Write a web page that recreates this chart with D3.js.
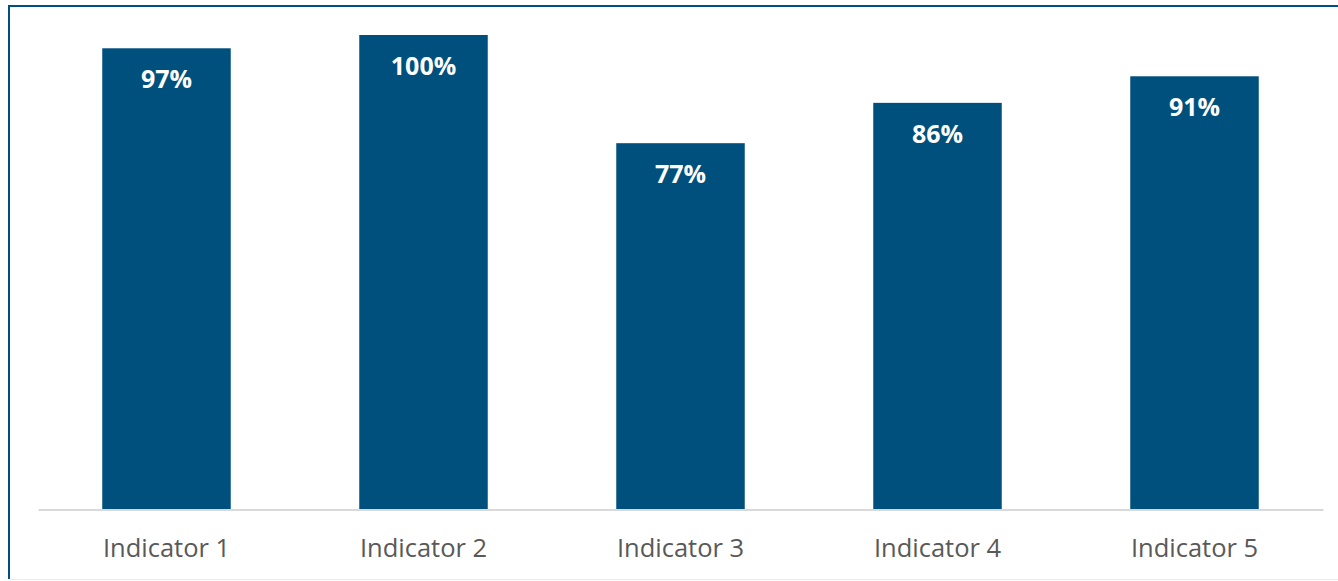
<!DOCTYPE html>
<html>
<head>
<meta charset="utf-8">
<script src="https://cdn.jsdelivr.net/npm/d3@7"></script>
<style>
  html, body { margin: 0; padding: 0; background: #ffffff; }
  svg { display: block; }
</style>
</head>
<body>
<svg id="chart" width="1338" height="581"></svg>
<script>
const categories = ["Indicator 1", "Indicator 2", "Indicator 3", "Indicator 4", "Indicator 5"];
const values = [0.972, 1.00, 0.772, 0.857, 0.913];
const valueLabels = ["97%", "100%", "77%", "86%", "91%"];

const W = 1338, H = 581;
const svg = d3.select("#chart");
const barColor = "#00507D";

// frame
svg.append("line").attr("x1", 9).attr("x2", W).attr("y1", 6).attr("y2", 6)
  .attr("stroke", barColor).attr("stroke-width", 2);
svg.append("line").attr("x1", 9).attr("x2", 9).attr("y1", 5).attr("y2", 579)
  .attr("stroke", barColor).attr("stroke-width", 2);
svg.append("line").attr("x1", 10).attr("x2", W).attr("y1", 579.5).attr("y2", 579.5)
  .attr("stroke", "#e3ecf1").attr("stroke-width", 1);

const x = d3.scaleBand().domain(categories).range([38, 1323]).paddingInner(0.5).paddingOuter(0.25);
const y = d3.scaleLinear().domain([0, 1]).range([509.5, 35]);

svg.append("g").selectAll("rect").data(categories).join("rect")
  .attr("x", d => x(d))
  .attr("width", x.bandwidth())
  .attr("y", (d, i) => y(values[i]))
  .attr("height", (d, i) => y(0) - y(values[i]))
  .attr("fill", barColor);

// axis
const axis = svg.append("g").attr("transform", `translate(0,${y(0)})`)
  .call(d3.axisBottom(x).tickSize(0).tickPadding(0));
axis.select(".domain").attr("stroke", "#d9d9d9").attr("stroke-width", 2);
axis.selectAll("text")
  .attr("y", 47.5).attr("dy", 0)
  .attr("font-family", "'Open Sans', sans-serif")
  .attr("font-size", 25.5)
  .attr("fill", "#595959");

// value labels
svg.append("g").selectAll("text").data(categories).join("text")
  .attr("x", d => x(d) + x.bandwidth() / 2)
  .attr("y", (d, i) => y(values[i]) + 40)
  .attr("text-anchor", "middle")
  .attr("font-family", "'Open Sans', sans-serif")
  .attr("font-weight", 700)
  .attr("font-size", 25)
  .attr("fill", "#ffffff")
  .text((d, i) => valueLabels[i]);
</script>
</body>
</html>
